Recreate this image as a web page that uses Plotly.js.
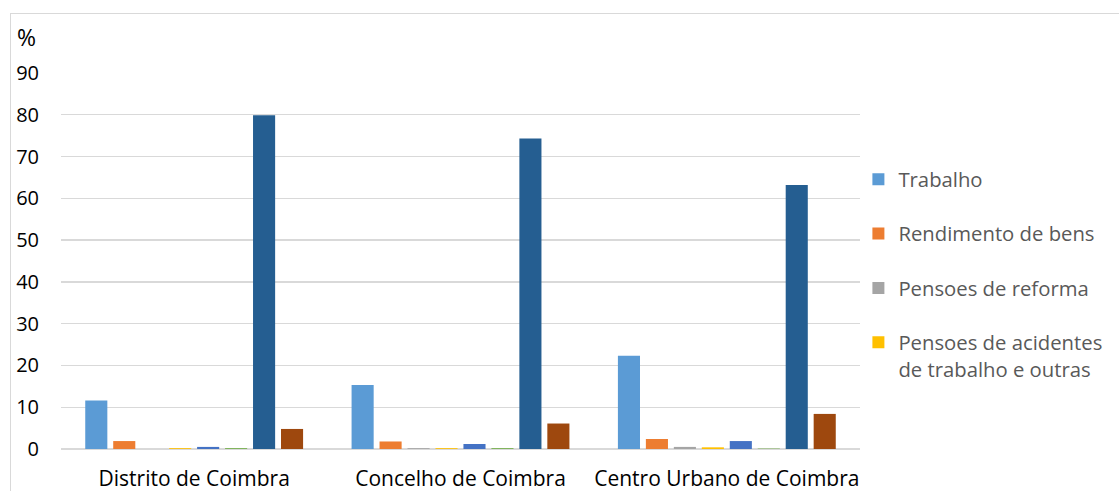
<!DOCTYPE html>
<html>
<head>
<meta charset="utf-8">
<script src="https://cdn.plot.ly/plotly-3.0.1.min.js"></script>
<style>
  html, body { margin: 0; padding: 0; background: #fff; overflow: hidden; }
  #chart { width: 1119px; height: 491px; }
  #frame { position: absolute; left: 10px; top: 13px; width: 1300px; height: 700px;
           border: 1px solid #d9d9d9; pointer-events: none; }
</style>
</head>
<body>
<div id="chart"></div>
<div id="frame"></div>
<script>
const categories = ["Distrito de Coimbra", "Concelho de Coimbra", "Centro Urbano de Coimbra"];

const seriesNames = [
  "Trabalho",
  "Rendimento de bens",
  "Pensoes de reforma",
  "Pensoes de acidentes<br>de trabalho e outras",
  "Subsídio de desemprego",
  "Outros subsídios",
  "A cargo da família",
  "Outra situação"
];

const trabalho = [11.6, 15.3, 22.3];
const rendimentoBens = [1.9, 1.8, 2.4];
const pensoesReforma = [0.0, 0.2, 0.5];
const pensoesAcidentes = [0.2, 0.2, 0.4];
const subsidioDesemprego = [0.5, 1.2, 1.9];
const outrosSubsidios = [0.2, 0.2, 0.1];
const cargoFamilia = [79.9, 74.3, 63.2];
const outraSituacao = [4.8, 6.1, 8.4];

const seriesValues = [trabalho, rendimentoBens, pensoesReforma, pensoesAcidentes,
                      subsidioDesemprego, outrosSubsidios, cargoFamilia, outraSituacao];
const colors = ["#5B9BD5", "#ED7D31", "#A5A5A5", "#FFC000", "#4472C4", "#70AD47", "#255E91", "#9E480E"];
const legendShown = [true, true, true, true, false, false, false, false];

const yTicks = [0, 10, 20, 30, 40, 50, 60, 70, 80, 90];

const FONT = "'Open Sans', 'Noto Sans', sans-serif";

const traces = seriesNames.map((name, i) => ({
  type: "bar",
  name: name,
  x: categories,
  y: seriesValues[i],
  marker: { color: colors[i], line: { width: 0 } },
  showlegend: legendShown[i],
  legendgroup: "g" + i,
  hoverinfo: "x+y+name"
}));

const layout = {
  width: 1119,
  height: 491,
  margin: { l: 61, r: 259, t: 73, b: 42, pad: 0, autoexpand: false },
  paper_bgcolor: "#ffffff",
  plot_bgcolor: "#ffffff",
  barmode: "group",
  bargap: 0.16,
  bargroupgap: 0.21,
  font: { family: FONT, size: 18, color: "#000000" },
  xaxis: {
    type: "category",
    showgrid: false,
    showline: false,
    ticks: "",
    automargin: false,
    tickfont: { family: FONT, size: 21, color: "#000000" },
    ticklabelstandoff: 15
  },
  yaxis: {
    range: [0, 90],
    tickvals: yTicks,
    ticktext: yTicks.map(String),
    showgrid: true,
    gridcolor: "#d9d9d9",
    gridwidth: 1.4,
    zeroline: true,
    zerolinecolor: "#d9d9d9",
    zerolinewidth: 1.6,
    showline: false,
    ticks: "",
    automargin: false,
    tickfont: { family: FONT, size: 20, color: "#000000" },
    ticklabelstandoff: 21
  },
  legend: {
    x: 0.998,
    xanchor: "left",
    y: 0.77,
    yanchor: "top",
    traceorder: "grouped",
    tracegroupgap: 25,
    valign: "top",
    font: { family: FONT, size: 20.3, color: "#595959" },
    bgcolor: "rgba(0,0,0,0)"
  },
  annotations: [{
    text: "%",
    xref: "paper", yref: "paper",
    x: -0.0435, y: 1.095,
    xanchor: "center", yanchor: "middle",
    showarrow: false,
    font: { family: FONT, size: 23, color: "#000000" }
  }]
};

Plotly.newPlot("chart", traces, layout, { displayModeBar: false, staticPlot: true });
</script>
</body>
</html>
